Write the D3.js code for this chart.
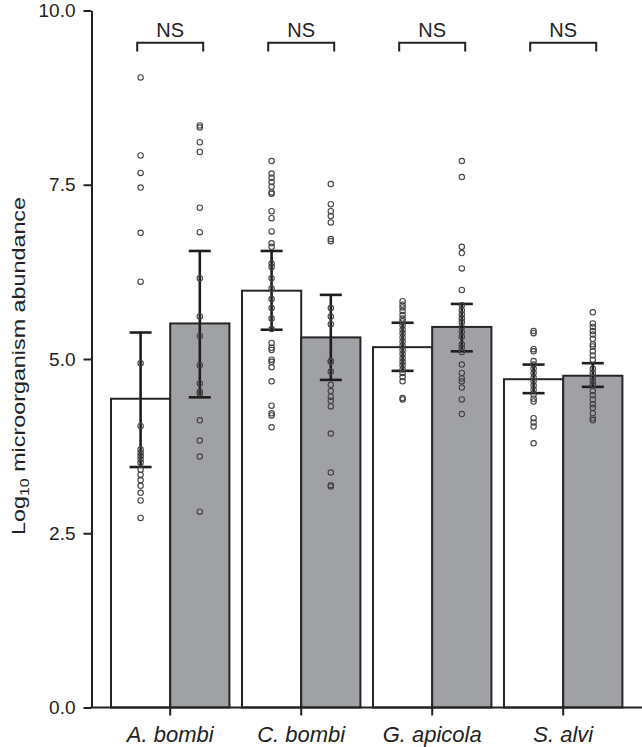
<!DOCTYPE html>
<html>
<head>
<meta charset="utf-8">
<script src="https://cdn.jsdelivr.net/npm/d3@7/dist/d3.min.js"></script>
<style>
  body { margin: 0; background: #fff; }
  svg { display: block; font-family: "Liberation Sans", Arial, Helvetica, sans-serif; }
</style>
</head>
<body>
<svg id="chart" width="642" height="747"></svg>
<script>
// categories and groups
const categories = ["A. bombi", "C. bombi", "G. apicola", "S. alvi"];
const groups = ["control", "treatment"];
const yTicks = [0, 2.5, 5, 7.5, 10];
const sigLabels = ["NS", "NS", "NS", "NS"];

// bar heights (means) and error bar ends, per category
const controlMean = [4.43, 5.98, 5.17, 4.71];
const controlLow = [3.45, 5.42, 4.83, 4.51];
const controlHigh = [5.38, 6.55, 5.52, 4.92];
const treatmentMean = [5.51, 5.31, 5.46, 4.76];
const treatmentLow = [4.45, 4.70, 5.11, 4.60];
const treatmentHigh = [6.55, 5.92, 5.79, 4.94];

// individual samples
const controlPoints = [
  [9.04, 7.92, 7.67, 7.46, 6.81, 6.11, 4.94, 4.04, 3.70, 3.65, 3.61, 3.56, 3.51, 3.41, 3.34, 3.26, 3.18, 3.08, 2.97, 2.72],
  [7.84, 7.66, 7.60, 7.54, 7.47, 7.39, 7.37, 7.12, 7.02, 6.83, 6.66, 6.61, 6.37, 6.32, 6.16, 6.01, 5.86, 5.73, 5.58, 5.43,
   5.23, 5.16, 5.13, 4.99, 4.96, 4.88, 4.68, 4.33, 4.22, 4.19, 4.02],
  [5.83, 5.78, 5.74, 5.69, 5.63, 5.58, 5.54, 5.48, 5.42, 5.37, 5.31, 5.25, 5.19, 5.13, 5.07, 5.01, 4.96, 4.91, 4.85, 4.80,
   4.74, 4.68, 4.44, 4.42],
  [5.40, 5.37, 5.14, 5.11, 4.97, 4.92, 4.86, 4.80, 4.73, 4.68, 4.62, 4.56, 4.49, 4.43, 4.39, 4.15, 4.09, 4.03, 3.79]
];
const treatmentPoints = [
  [8.35, 8.32, 8.11, 7.97, 7.17, 6.82, 6.16, 5.61, 5.33, 4.91, 4.65, 4.53, 4.51, 4.12, 3.83, 3.60, 2.81],
  [7.51, 7.22, 7.12, 7.05, 6.96, 6.72, 6.69, 5.73, 5.61, 5.50, 4.97, 4.96, 4.82, 4.63, 4.54, 4.46, 4.40, 4.32, 3.93, 3.37,
   3.19, 3.17],
  [7.84, 7.61, 6.61, 6.52, 6.30, 5.99, 5.77, 5.70, 5.64, 5.58, 5.53, 5.46, 5.39, 5.32, 5.21, 5.16, 5.10, 4.92, 4.80, 4.72,
   4.68, 4.59, 4.42, 4.21],
  [5.67, 5.51, 5.46, 5.40, 5.35, 5.29, 5.21, 5.18, 5.11, 5.05, 4.99, 4.86, 4.80, 4.73, 4.68, 4.63, 4.54, 4.48, 4.42, 4.35,
   4.30, 4.22, 4.15, 4.12]
];

class AbundanceChart {
  constructor(_config) {
    this.config = {
      parentElement: _config.parentElement,
      axisX: 91.5,
      top: 10.5,
      bottom: 707.5,
      right: 642,
    };
    this.initVis();
  }

  initVis() {
    let vis = this;
    const c = vis.config;
    vis.svg = d3.select(c.parentElement);

    // one row per bar
    vis.bars = [];
    categories.forEach((cat, i) => {
      vis.bars.push({ cat, group: "control", mean: controlMean[i], lo: controlLow[i], hi: controlHigh[i], pts: controlPoints[i] });
      vis.bars.push({ cat, group: "treatment", mean: treatmentMean[i], lo: treatmentLow[i], hi: treatmentHigh[i], pts: treatmentPoints[i] });
    });

    vis.y = d3.scaleLinear().domain([0, 10]).range([c.bottom, c.top]);
    vis.x = d3.scaleBand().domain(categories).range([104.7, 628.7]).paddingInner(0.096).paddingOuter(0.048);
    vis.xSub = d3.scaleBand().domain(groups).range([0, vis.x.bandwidth()]);
    vis.fill = d3.scaleOrdinal().domain(groups).range(["#ffffff", "#a0a1a4"]);

    vis.renderVis();
  }

  renderVis() {
    let vis = this;
    const c = vis.config;
    const cx = (d) => vis.x(d.cat) + vis.xSub(d.group) + vis.xSub.bandwidth() / 2;

    // bars
    vis.svg.append("g").selectAll("rect")
      .data(vis.bars)
      .join("rect")
      .attr("x", (d) => vis.x(d.cat) + vis.xSub(d.group))
      .attr("y", (d) => vis.y(d.mean))
      .attr("width", vis.xSub.bandwidth())
      .attr("height", (d) => vis.y(0) - vis.y(d.mean))
      .attr("fill", (d) => vis.fill(d.group))
      .attr("stroke", "#262626")
      .attr("stroke-width", 2);

    // error bars
    const err = vis.svg.append("g").attr("stroke", "#1e1e1e").attr("stroke-width", 2.6);
    err.selectAll(".stem").data(vis.bars).join("line")
      .attr("x1", cx).attr("x2", cx)
      .attr("y1", (d) => vis.y(d.lo)).attr("y2", (d) => vis.y(d.hi));
    ["lo", "hi"].forEach((k) => {
      err.selectAll(".cap-" + k).data(vis.bars).join("line")
        .attr("x1", (d) => cx(d) - 11).attr("x2", (d) => cx(d) + 11)
        .attr("y1", (d) => vis.y(d[k])).attr("y2", (d) => vis.y(d[k]));
    });

    // raw samples as open circles
    const pts = vis.bars.flatMap((d) => d.pts.map((v) => ({ x: cx(d), v })));
    vis.svg.append("g").selectAll("circle")
      .data(pts)
      .join("circle")
      .attr("cx", (d) => d.x)
      .attr("cy", (d) => vis.y(d.v))
      .attr("r", 2.7)
      .attr("fill", "none")
      .attr("stroke", "#444")
      .attr("stroke-width", 1.1);

    // y axis
    const yAxis = d3.axisLeft(vis.y).tickValues(yTicks).tickFormat(d3.format(".1f"))
      .tickSize(8).tickSizeOuter(0).tickPadding(8);
    const gy = vis.svg.append("g").attr("transform", `translate(${c.axisX},0)`).call(yAxis);
    gy.select(".domain").attr("stroke", "#222").attr("stroke-width", 2);
    gy.selectAll(".tick line").attr("stroke", "#222").attr("stroke-width", 2);
    gy.selectAll(".tick text").attr("font-size", 19).attr("fill", "#222").attr("font-family", null);

    // x axis, the line runs out to the right edge
    const xAxis = d3.axisBottom(vis.x).tickSize(8).tickSizeOuter(0).tickPadding(11);
    const gx = vis.svg.append("g").attr("transform", `translate(0,${c.bottom})`).call(xAxis);
    gx.select(".domain").remove();
    gx.append("line").attr("x1", c.axisX - 1).attr("x2", c.right).attr("stroke", "#222").attr("stroke-width", 2);
    gx.selectAll(".tick line").attr("stroke", "#222").attr("stroke-width", 2);
    gx.selectAll(".tick text").attr("font-size", 22).attr("font-style", "italic").attr("fill", "#222").attr("font-family", null);

    // NS brackets
    const br = vis.svg.append("g");
    categories.forEach((cat, i) => {
      const mid = vis.x(cat) + vis.x.bandwidth() / 2;
      br.append("path")
        .attr("d", `M${mid - 33},51.5V42.7H${mid + 33}V51.5`)
        .attr("fill", "none").attr("stroke", "#222").attr("stroke-width", 2);
      br.append("text").attr("x", mid).attr("y", 37.3).attr("text-anchor", "middle")
        .attr("font-size", 20).attr("fill", "#222").text(sigLabels[i]);
    });

    // y title with subscript
    const title = vis.svg.append("text")
      .attr("transform", "translate(25,366) rotate(-90)")
      .attr("text-anchor", "middle")
      .attr("font-size", 19)
      .attr("fill", "#222")
      .attr("textLength", 338)
      .attr("lengthAdjust", "spacingAndGlyphs");
    title.append("tspan").text("Log");
    title.append("tspan").attr("font-size", 13).attr("dy", 4).text("10");
    title.append("tspan").attr("dy", -4).text(" microorganism abundance");
  }
}

new AbundanceChart({ parentElement: "#chart" });
</script>
</body>
</html>
